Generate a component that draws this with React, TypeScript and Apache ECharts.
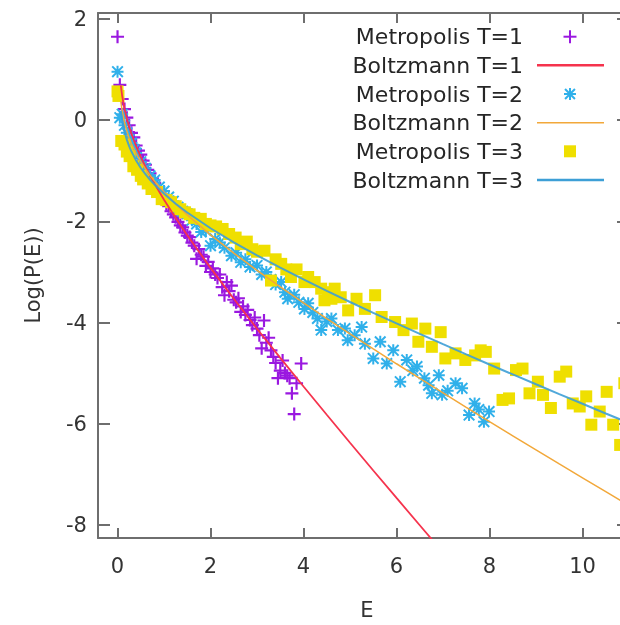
import React, { useEffect, useRef } from "react";
import * as echarts from "echarts";

const FONT = "DejaVu Sans";

const xTicks = [0, 2, 4, 6, 8, 10];
const yTicks = [-8, -6, -4, -2, 0, 2];

const seriesNames = [
  "Metropolis T=1",
  "Boltzmann T=1",
  "Metropolis T=2",
  "Boltzmann T=2",
  "Metropolis T=3",
  "Boltzmann T=3",
];

const metropolisT1: [number, number][] = [
  [0.0, 1.65], [0.05, 0.7], [0.1, 0.42], [0.15, 0.22], [0.2, 0.05], [0.25, -0.1],
  [0.3, -0.25], [0.35, -0.34], [0.4, -0.5], [0.45, -0.6], [0.5, -0.68], [0.55, -0.8],
  [0.6, -0.88], [0.65, -0.98], [0.7, -1.05], [0.75, -1.15], [0.8, -1.24], [0.85, -1.32],
  [0.9, -1.4], [0.95, -1.47], [1.0, -1.55], [1.05, -1.66], [1.1, -1.7], [1.15, -1.8],
  [1.2, -1.86], [1.25, -1.92], [1.3, -2.01], [1.35, -2.08], [1.4, -2.12], [1.45, -2.22],
  [1.5, -2.28], [1.55, -2.31], [1.6, -2.42], [1.65, -2.48], [1.7, -2.74], [1.75, -2.55],
  [1.8, -2.66], [1.85, -2.7], [1.9, -2.88], [1.95, -2.8], [2.0, -3.0], [2.05, -2.93],
  [2.1, -3.05], [2.15, -3.12], [2.2, -3.05], [2.25, -3.3], [2.3, -3.46], [2.35, -3.2],
  [2.4, -3.38], [2.45, -3.27], [2.5, -3.55], [2.55, -3.6], [2.6, -3.52], [2.65, -3.79],
  [2.7, -3.68], [2.75, -3.85], [2.8, -3.75], [2.85, -3.95], [2.9, -4.05], [2.95, -3.9],
  [3.0, -4.12], [3.05, -4.25], [3.1, -4.51], [3.15, -3.96], [3.2, -4.4], [3.25, -4.3],
  [3.3, -4.55], [3.35, -4.68], [3.4, -4.8], [3.45, -5.1], [3.5, -4.95], [3.55, -4.75],
  [3.6, -5.0], [3.65, -5.05], [3.7, -5.1], [3.75, -5.4], [3.8, -5.81], [3.85, -5.2],
  [3.95, -4.81],
];

const boltzmannT1: [number, number][] = [
  [0.07, 0.688], [0.1, 0.479], [0.15, 0.227], [0.2, 0.033], [0.25, -0.129], [0.3, -0.27],
  [0.4, -0.514], [0.5, -0.725], [0.6, -0.916], [0.7, -1.094], [0.8, -1.26], [1.0, -1.572],
  [1.25, -1.934], [1.5, -2.275], [2.0, -2.919], [2.5, -3.53], [3.0, -4.122], [3.5, -4.699],
  [4.0, -5.265], [4.5, -5.824], [5.0, -6.377], [5.5, -6.925], [6.0, -7.468], [6.5, -8.008],
  [6.8, -8.331],
];

const metropolisT2: [number, number][] = [
  [0.0, 0.96], [0.05, 0.05], [0.1, 0.12], [0.15, -0.1], [0.2, -0.25], [0.25, -0.38],
  [0.3, -0.45], [0.35, -0.58], [0.4, -0.65], [0.5, -0.82], [0.6, -0.95], [0.7, -1.1],
  [0.8, -1.18], [0.9, -1.32], [1.0, -1.4], [1.1, -1.52], [1.2, -1.6], [1.3, -1.72],
  [1.4, -1.8], [1.5, -1.85], [1.6, -1.98], [1.7, -2.05], [1.8, -2.21], [1.9, -2.18],
  [2.0, -2.48], [2.1, -2.35], [2.2, -2.42], [2.3, -2.52], [2.45, -2.68], [2.55, -2.62],
  [2.65, -2.81], [2.75, -2.75], [2.85, -2.9], [3.0, -2.87], [3.1, -3.05], [3.2, -3.0],
  [3.3, -3.15], [3.4, -3.25], [3.52, -3.2], [3.6, -3.4], [3.66, -3.53], [3.8, -3.45],
  [3.9, -3.6], [4.02, -3.73], [4.1, -3.62], [4.2, -3.8], [4.3, -3.92], [4.38, -4.15],
  [4.5, -3.98], [4.6, -3.92], [4.74, -4.15], [4.89, -4.12], [4.95, -4.35], [5.1, -4.25],
  [5.25, -4.09], [5.32, -4.42], [5.5, -4.71], [5.65, -4.38], [5.79, -4.81], [5.93, -4.55],
  [6.08, -5.17], [6.22, -4.74], [6.35, -4.95], [6.44, -4.87], [6.6, -5.1], [6.69, -5.24],
  [6.76, -5.4], [6.91, -5.04], [6.98, -5.43], [7.1, -5.35], [7.27, -5.2], [7.41, -5.3],
  [7.56, -5.83], [7.68, -5.6], [7.77, -5.72], [7.88, -5.96], [7.99, -5.76],
];

const boltzmannT2: [number, number][] = [
  [0.07, 0.376], [0.1, 0.182], [0.15, -0.045], [0.2, -0.214], [0.25, -0.351], [0.3, -0.467],
  [0.4, -0.661], [0.5, -0.822], [0.6, -0.963], [0.7, -1.091], [0.8, -1.207], [1.0, -1.419],
  [1.25, -1.656], [1.5, -1.872], [2.0, -2.266], [2.5, -2.627], [3.0, -2.969], [3.5, -3.296],
  [4.0, -3.612], [4.5, -3.921], [5.0, -4.224], [5.5, -4.522], [6.0, -4.815], [6.5, -5.105],
  [7.0, -5.392], [7.5, -5.677], [8.0, -5.959], [8.5, -6.239], [9.0, -6.518], [9.5, -6.795],
  [10.0, -7.07], [10.5, -7.345], [11.0, -7.618],
];

const metropolisT3: [number, number][] = [
  [0.0, 0.57], [0.02, 0.48], [0.08, -0.41], [0.15, -0.48], [0.2, -0.62], [0.26, -0.71],
  [0.34, -0.91], [0.42, -0.98], [0.5, -1.1], [0.55, -1.17], [0.65, -1.25], [0.73, -1.36],
  [0.85, -1.42], [0.95, -1.56], [1.05, -1.58], [1.15, -1.62], [1.25, -1.7], [1.35, -1.76],
  [1.45, -1.82], [1.55, -1.86], [1.65, -1.93], [1.79, -1.95], [1.9, -2.05], [2.0, -2.08],
  [2.12, -2.1], [2.26, -2.15], [2.4, -2.25], [2.54, -2.32], [2.65, -2.45], [2.78, -2.4],
  [2.9, -2.55], [3.0, -2.6], [3.16, -2.58], [3.3, -3.17], [3.4, -2.75], [3.52, -2.84],
  [3.63, -2.95], [3.73, -3.1], [3.85, -2.95], [4.02, -3.2], [4.1, -3.1], [4.24, -3.2],
  [4.38, -3.33], [4.45, -3.56], [4.53, -3.4], [4.6, -3.53], [4.67, -3.33], [4.8, -3.5],
  [4.96, -3.76], [5.14, -3.53], [5.32, -3.73], [5.54, -3.46], [5.68, -3.89], [5.97, -3.99],
  [6.15, -4.15], [6.33, -4.02], [6.47, -4.38], [6.62, -4.12], [6.76, -4.48], [6.95, -4.19],
  [7.05, -4.71], [7.27, -4.61], [7.48, -4.74], [7.69, -4.65], [7.81, -4.55], [7.92, -4.58],
  [8.1, -4.91], [8.28, -5.53], [8.42, -5.5], [8.57, -4.94], [8.71, -4.91], [8.86, -5.4],
  [9.04, -5.17], [9.15, -5.43], [9.32, -5.69], [9.51, -5.07], [9.65, -4.97], [9.79, -5.6],
  [9.94, -5.66], [10.08, -5.46], [10.19, -6.02], [10.37, -5.76], [10.52, -5.37], [10.66, -6.02],
  [10.81, -6.42], [10.9, -5.2],
];

const boltzmannT3: [number, number][] = [
  [0.07, 0.185], [0.1, -0.004], [0.15, -0.223], [0.2, -0.384], [0.25, -0.512], [0.3, -0.62],
  [0.4, -0.797], [0.5, -0.942], [0.6, -1.066], [0.7, -1.177], [0.8, -1.277], [1.0, -1.455],
  [1.25, -1.651], [1.5, -1.825], [2.0, -2.136], [2.5, -2.413], [3.0, -2.672], [3.5, -2.916],
  [4.0, -3.148], [4.5, -3.374], [5.0, -3.594], [5.5, -3.808], [6.0, -4.018], [6.5, -4.225],
  [7.0, -4.428], [7.5, -4.63], [8.0, -4.829], [8.5, -5.025], [9.0, -5.221], [9.5, -5.415],
  [10.0, -5.606], [10.5, -5.798], [11.0, -5.988],
];

const COLORS = {
  purple: "#9a18e0",
  red: "#f5334d",
  sky: "#30b0ea",
  orange: "#f2a83a",
  yellow: "#efdf00",
  blue: "#3d9fd6",
};

const PLUS = "path://M5,0h2v5h5v2h-5v5h-2v-5h-5v-2h5z";
const STAR =
  "path://M5,0h2v12h-2zM0,5h12v2h-12zM0,1.4L1.4,0L12,10.6L10.6,12zM10.6,0L12,1.4L1.4,12L0,10.6z";

const AXIS_COLOR = "#6e6e6e";

function makeAxis(kind: "x" | "y", primary: boolean) {
  const isX = kind === "x";
  const ticks = isX ? xTicks : yTicks;
  return {
    type: "value",
    min: isX ? -0.42 : -8.26,
    max: isX ? 11 : 2.12,
    position: isX ? (primary ? "bottom" : "top") : primary ? "left" : "right",
    axisLine: { show: true, onZero: false, lineStyle: { color: AXIS_COLOR, width: 2 } },
    axisTick: {
      show: true,
      inside: true,
      length: isX ? 10 : 12,
      customValues: ticks,
      lineStyle: { color: AXIS_COLOR, width: 2 },
    },
    axisLabel: primary
      ? {
          show: true,
          customValues: ticks,
          margin: isX ? 17 : 11,
          color: "#333",
          fontSize: 21,
          fontFamily: FONT,
        }
      : { show: false },
    splitLine: { show: false },
    ...(primary
      ? {
          name: isX ? "E" : "Log(P(E))",
          nameLocation: "middle",
          nameGap: isX ? 61 : 55,
          nameTextStyle: isX
            ? { color: "#333", fontSize: 21, fontFamily: FONT, padding: [0, 0, 0, 7] }
            : { color: "#333", fontSize: 21, fontFamily: FONT },
        }
      : {}),
  };
}

function legendGraphics() {
  const textX = 523;
  const rows = [36.7, 65.3, 94, 122.7, 151.3, 180];
  const iconX = 570;
  const els: any[] = [];
  seriesNames.forEach((name, i) => {
    els.push({
      type: "text",
      x: textX,
      y: rows[i],
      style: {
        text: name,
        align: "right",
        verticalAlign: "middle",
        fill: "#262626",
        fontSize: 22,
        fontFamily: FONT,
      },
    });
  });
  els.push({ type: "rect", shape: { x: iconX - 6.5, y: rows[0] - 1, width: 13, height: 2 }, style: { fill: COLORS.purple } });
  els.push({ type: "rect", shape: { x: iconX - 1, y: rows[0] - 6.5, width: 2, height: 13 }, style: { fill: COLORS.purple } });
  els.push({ type: "line", shape: { x1: 537, y1: rows[1], x2: 604, y2: rows[1] }, style: { stroke: COLORS.red, lineWidth: 2.5 } });
  els.push({ type: "rect", shape: { x: iconX - 6, y: rows[2] - 1, width: 12, height: 2 }, style: { fill: COLORS.sky } });
  els.push({ type: "rect", shape: { x: iconX - 1, y: rows[2] - 6, width: 2, height: 12 }, style: { fill: COLORS.sky } });
  els.push({ type: "rect", x: iconX, y: rows[2], rotation: Math.PI / 4, shape: { x: -7, y: -1, width: 14, height: 2 }, style: { fill: COLORS.sky } });
  els.push({ type: "rect", x: iconX, y: rows[2], rotation: -Math.PI / 4, shape: { x: -7, y: -1, width: 14, height: 2 }, style: { fill: COLORS.sky } });
  els.push({ type: "line", shape: { x1: 537, y1: rows[3], x2: 604, y2: rows[3] }, style: { stroke: COLORS.orange, lineWidth: 1.6 } });
  els.push({ type: "rect", shape: { x: iconX - 6, y: rows[4] - 6, width: 12, height: 12 }, style: { fill: COLORS.yellow } });
  els.push({ type: "line", shape: { x1: 537, y1: rows[5], x2: 604, y2: rows[5] }, style: { stroke: COLORS.blue, lineWidth: 2.5 } });
  return els;
}

export default function App() {
  const ref = useRef<HTMLDivElement>(null);
  useEffect(() => {
    if (!ref.current) return;
    const chart = echarts.init(ref.current, null, { renderer: "svg" });
    const scatterBase = { type: "scatter", xAxisIndex: 0, yAxisIndex: 0 };
    const lineBase = {
      type: "line",
      xAxisIndex: 0,
      yAxisIndex: 0,
      showSymbol: false,
      symbol: "none",
      clip: true,
    };
    chart.setOption({
      animation: false,
      backgroundColor: "#ffffff",
      textStyle: { fontFamily: FONT },
      grid: { left: 98, top: 13, right: 0, bottom: 85, containLabel: false },
      xAxis: [makeAxis("x", true), makeAxis("x", false)],
      yAxis: [makeAxis("y", true), makeAxis("y", false)],
      series: [
        {
          ...scatterBase,
          name: seriesNames[0],
          data: metropolisT1,
          symbol: PLUS,
          symbolSize: 13,
          itemStyle: { color: COLORS.purple, opacity: 1 },
        },
        {
          ...lineBase,
          name: seriesNames[1],
          data: boltzmannT1,
          lineStyle: { color: COLORS.red, width: 1.8 },
          itemStyle: { color: COLORS.red },
        },
        {
          ...scatterBase,
          name: seriesNames[2],
          data: metropolisT2,
          symbol: STAR,
          symbolSize: 12,
          itemStyle: { color: COLORS.sky, opacity: 1 },
        },
        {
          ...lineBase,
          name: seriesNames[3],
          data: boltzmannT2,
          lineStyle: { color: COLORS.orange, width: 1.5 },
          itemStyle: { color: COLORS.orange },
        },
        {
          ...scatterBase,
          name: seriesNames[4],
          data: metropolisT3,
          symbol: "rect",
          symbolSize: 12,
          itemStyle: { color: COLORS.yellow, opacity: 1 },
        },
        {
          ...lineBase,
          name: seriesNames[5],
          data: boltzmannT3,
          lineStyle: { color: COLORS.blue, width: 2, opacity: 0.9 },
          itemStyle: { color: COLORS.blue },
        },
      ],
      graphic: legendGraphics(),
    });
    return () => chart.dispose();
  }, []);
  return (
    <div
      style={{
        position: "fixed",
        left: 0,
        top: 0,
        width: 620,
        height: 625,
        overflow: "hidden",
        background: "#ffffff",
      }}
    >
      <div ref={ref} style={{ width: 629, height: 625, filter: "blur(0.5px)" }} />
    </div>
  );
}
